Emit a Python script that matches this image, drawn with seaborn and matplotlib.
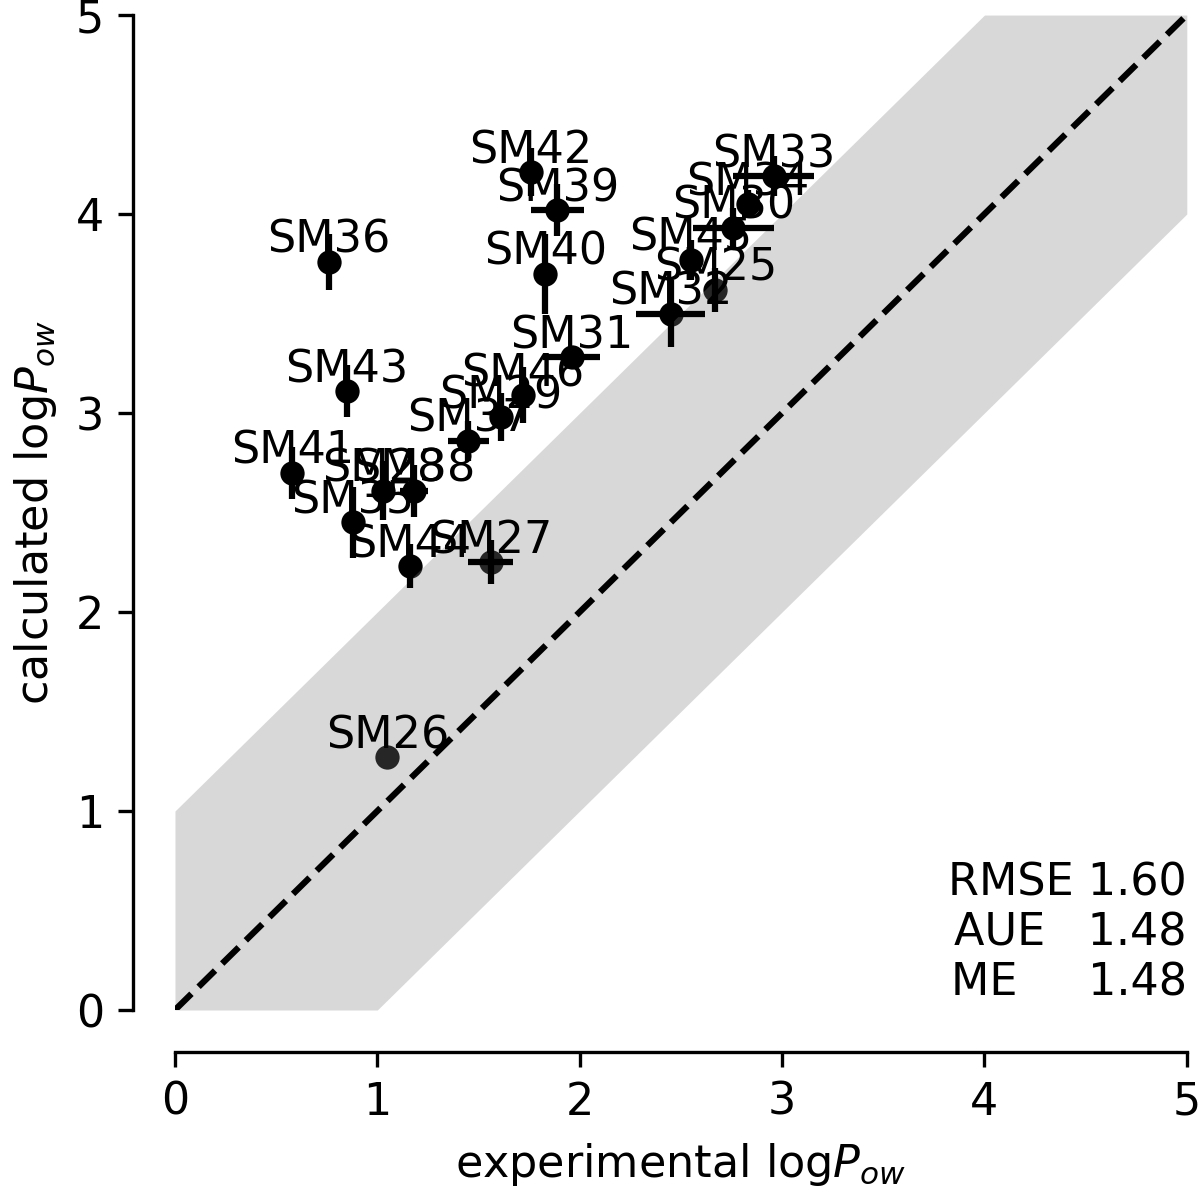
import numpy as np
import pandas as pd
import matplotlib
matplotlib.use("Agg")
import matplotlib.pyplot as plt
import seaborn as sns

# compounds, experimental vs calculated logPow
names = ["SM25", "SM26", "SM27", "SM28", "SM29", "SM30", "SM31", "SM32", "SM33", "SM34", "SM35",
         "SM36", "SM37", "SM38", "SM39", "SM40", "SM41", "SM42", "SM43", "SM44", "SM45", "SM46"]
exp_logp = [2.67, 1.05, 1.56, 1.03, 1.61, 2.76, 1.96, 2.45, 2.96, 2.83, 0.88,
            0.76, 1.45, 1.18, 1.89, 1.83, 0.58, 1.76, 0.85, 1.16, 2.55, 1.72]
calc_logp = [3.62, 1.27, 2.25, 2.61, 2.98, 3.93, 3.28, 3.50, 4.19, 4.05, 2.45,
             3.76, 2.86, 2.61, 4.02, 3.70, 2.70, 4.21, 3.11, 2.23, 3.77, 3.09]
exp_err = [0.0, 0.0, 0.11, 0.0, 0.0, 0.20, 0.14, 0.17, 0.20, 0.0, 0.0,
           0.0, 0.10, 0.07, 0.13, 0.0, 0.0, 0.0, 0.0, 0.0, 0.0, 0.0]
calc_err = [0.11, 0.0, 0.11, 0.15, 0.12, 0.10, 0.05, 0.17, 0.10, 0.07, 0.18,
            0.14, 0.10, 0.13, 0.13, 0.20, 0.13, 0.12, 0.13, 0.11, 0.10, 0.14]
stats_text = "RMSE 1.60\nAUE   1.48\nME     1.48"

df = pd.DataFrame({"name": names, "exp": exp_logp, "calc": calc_logp,
                   "exp_err": exp_err, "calc_err": calc_err})

sns.set_style("ticks")
plt.rcParams["font.family"] = ["DejaVu Sans"]
plt.rcParams["font.size"] = 10.7
for key in ["text.color", "axes.labelcolor", "xtick.color", "ytick.color", "axes.edgecolor"]:
    plt.rcParams[key] = "black"

fig, ax = plt.subplots(figsize=(4, 3.98), dpi=300)
fig.subplots_adjust(left=0.1458, right=0.989, top=0.9874, bottom=0.1541)

sns.scatterplot(data=df, x="exp", y="calc", color="black", s=34, linewidth=0, ax=ax)

# +/- 1 log unit band, drawn over the markers like in the original
band_x = np.array([0, 1, 4, 5])
ax.fill_between(band_x, np.clip(band_x - 1, 0, 5), np.clip(band_x + 1, 0, 5),
                color="grey", alpha=0.3, linewidth=0)

ax.errorbar(df["exp"], df["calc"], xerr=df["exp_err"], yerr=df["calc_err"],
            fmt="none", ecolor="black", elinewidth=1.5, capsize=0)
ax.plot([0, 5], [0, 5], color="black", linestyle="--", linewidth=1.5)

for _, row in df.iterrows():
    ax.text(row["exp"], row["calc"], row["name"], ha="center", va="bottom", fontsize=10.7)

ax.text(5, 0.03, stats_text, ha="right", va="bottom", fontsize=10.7)

ax.set_xlim(0, 5)
ax.set_ylim(0, 5)
ax.set_xticks(range(6))
ax.set_yticks(range(6))
ax.tick_params(labelsize=10.7)
ax.set_xlabel("experimental log$P_{ow}$", fontsize=10.7)
ax.set_ylabel("calculated log$P_{ow}$", fontsize=10.7)
sns.despine(ax=ax, offset=10)

plt.savefig("out.png", dpi=300)
